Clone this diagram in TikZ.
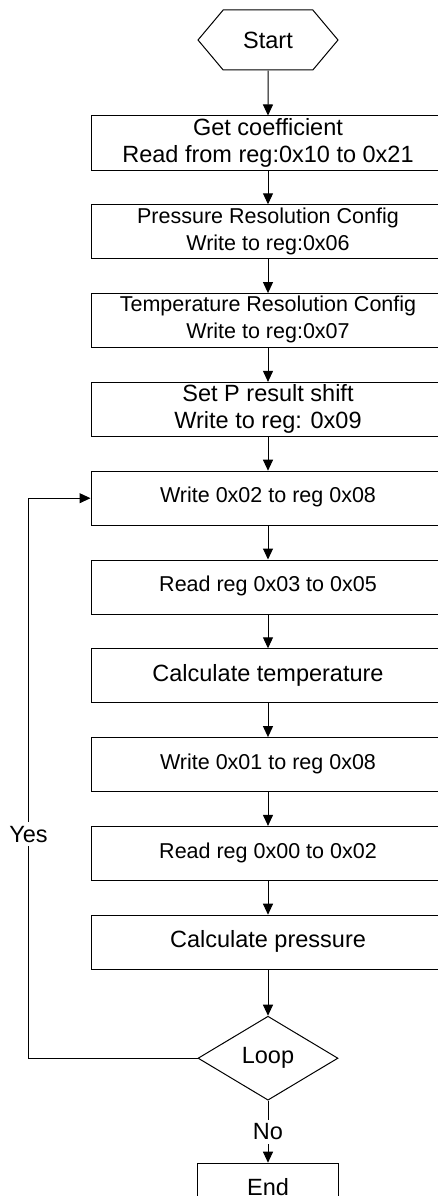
\documentclass[tikz,border=0pt]{standalone}
\usepackage{fontspec}
\setmainfont{Liberation Sans}
\usetikzlibrary{shapes.geometric,shapes.symbols,arrows.meta,positioning}

\begin{document}
\begin{tikzpicture}[
    node distance=33.8pt,
    block/.style={rectangle, draw, line width=1pt, align=center, minimum width=354pt, minimum height=54pt, inner sep=0pt, text depth=6pt, font=\fontsize{23.5}{27}\selectfont},
    regblock/.style={block, font=\fontsize{21.5}{27}\selectfont},
    terminal/.style={signal, signal to=east and west, signal pointer angle=100, draw, line width=1pt, minimum width=140pt, minimum height=60pt, inner sep=0pt, font=\fontsize{23.5}{27}\selectfont},
    decision/.style={diamond, draw, aspect=1.667, minimum width=140pt, minimum height=84pt, inner sep=0pt, line width=1pt, font=\fontsize{23.5}{27}\selectfont},
    answer/.style={fill=white, inner xsep=2pt, inner ysep=4pt, font=\fontsize{23.5}{27}\selectfont},
    arrow/.style={-{Triangle[length=11pt,width=10pt]}, line width=1pt}
]
\useasboundingbox (0,0) rectangle (437pt,-1196pt);

% Start and setup
\node[terminal] (start) at (268pt,-40pt) {Start};
\node[block, below=45pt of start] (coef) {Get coefficient\\Read from reg:0x10 to 0x21};
\node[regblock, below=of coef] (p_res) {Pressure Resolution Config\\Write to reg:0x06};
\node[regblock, below=of p_res] (t_res) {Temperature Resolution Config\\Write to reg:0x07};
\node[block, below=of t_res] (p_shift) {Set P result shift\\Write to reg: 0x09};

% Temperature
\node[regblock, below=of p_shift] (t_start) {Write 0x02 to reg 0x08};
\node[regblock, below=of t_start] (t_read) {Read reg 0x03 to 0x05};
\node[block, below=of t_read] (t_calc) {Calculate temperature};

% Pressure
\node[regblock, below=of t_calc] (p_start) {Write 0x01 to reg 0x08};
\node[regblock, below=of p_start] (p_read) {Read reg 0x00 to 0x02};
\node[block, below=of p_read] (p_calc) {Calculate pressure};

% Loop and end
\node[decision, below=46pt of p_calc] (loop) {Loop};
\node[block, minimum width=141pt, below=62pt of loop] (stop) {End};

% Arrows
\draw[arrow] (start) -- (coef);
\draw[arrow] (coef) -- (p_res);
\draw[arrow] (p_res) -- (t_res);
\draw[arrow] (t_res) -- (p_shift);
\draw[arrow] (p_shift) -- (t_start);
\draw[arrow] (t_start) -- (t_read);
\draw[arrow] (t_read) -- (t_calc);
\draw[arrow] (t_calc) -- (p_start);
\draw[arrow] (p_start) -- (p_read);
\draw[arrow] (p_read) -- (p_calc);
\draw[arrow] (p_calc) -- (loop);
\draw[arrow] (loop) -- node[answer] {No} (stop);
\draw[arrow] (loop.west) -- ++(-169pt,0) |- node[answer, pos=0.2] {Yes} (t_start.west);

\end{tikzpicture}
\end{document}
